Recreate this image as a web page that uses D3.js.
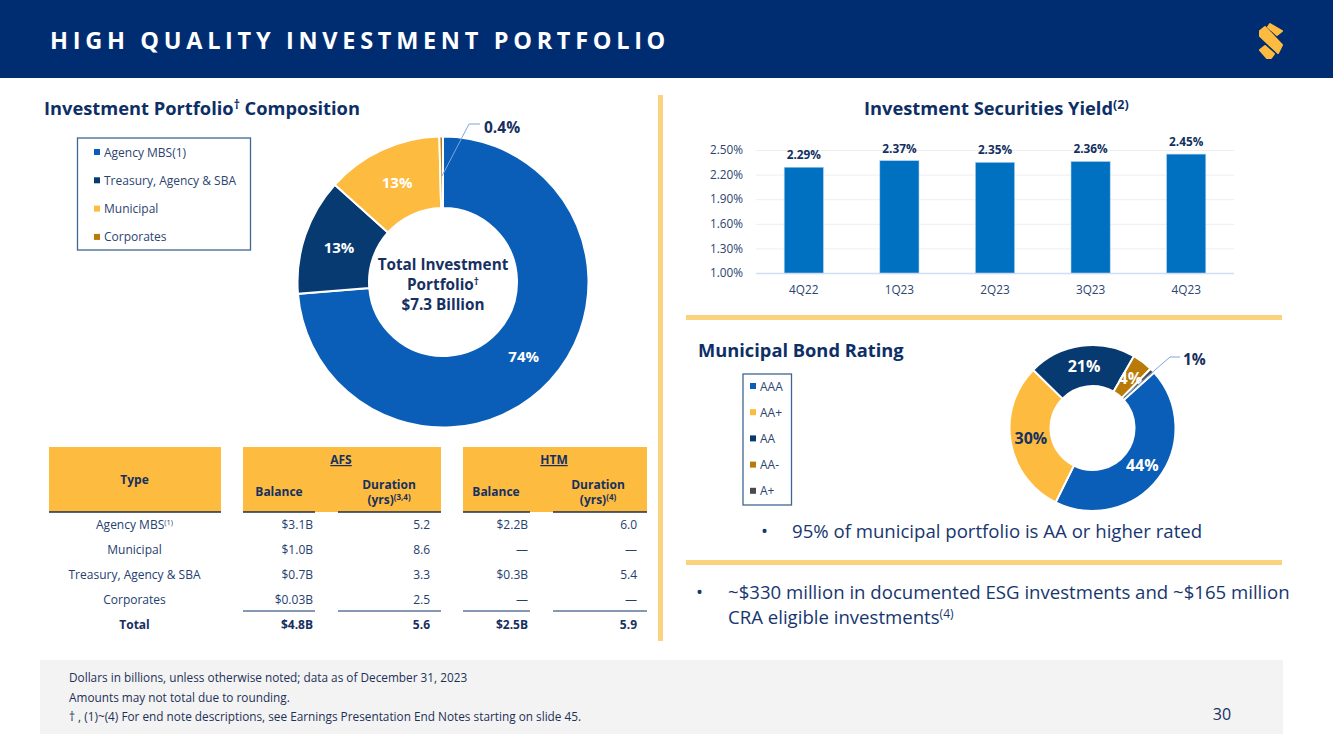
<!DOCTYPE html>
<html lang="en">
<head>
<meta charset="UTF-8">
<title>High Quality Investment Portfolio</title>
<script src="https://d3js.org/d3.v7.min.js"></script>
<style>
    html, body { margin: 0; padding: 0; background: #fff; overflow: hidden; }
    svg { display: block; }
    text { font-family: "Open Sans", sans-serif; fill: #17305f; }
    .heading { font-size: 18.3px; font-weight: 700; fill: #0e2f66; }
    .legend { font-size: 12px; fill: #2b4470; }
    .cell { font-size: 12px; fill: #24406f; }
    .head { font-size: 12px; font-weight: 700; fill: #17305f; }
    .foot { font-size: 11.8px; fill: #1d3156; }
    .bullet { font-size: 18.6px; fill: #17366f; }
</style>
</head>
<body>
<svg width="1333" height="749"></svg>
<script>
// Portfolio donut
const portfolioNames = ["Agency MBS(1)", "Treasury, Agency & SBA", "Municipal", "Corporates"];
const portfolioValues = [74, 13, 13, 0.4];
const portfolioLabels = ["74%", "13%", "13%", "0.4%"];

// Municipal rating donut
const ratingNames = ["AAA", "AA+", "AA", "AA-", "A+"];
const ratingValues = [44, 30, 21, 4, 1];
const ratingLabels = ["44%", "30%", "21%", "4%", "1%"];

// Yield bars
const quarters = ["4Q22", "1Q23", "2Q23", "3Q23", "4Q23"];
const yields = [2.29, 2.37, 2.35, 2.36, 2.45];
const yieldTicks = [1.0, 1.3, 1.6, 1.9, 2.2, 2.5];

// Table
const rowTypes = ["Agency MBS", "Municipal", "Treasury, Agency & SBA", "Corporates", "Total"];
const afsBalance = ["$3.1B", "$1.0B", "$0.7B", "$0.03B", "$4.8B"];
const afsDuration = ["5.2", "8.6", "3.3", "2.5", "5.6"];
const htmBalance = ["$2.2B", "—", "$0.3B", "—", "$2.5B"];
const htmDuration = ["6.0", "—", "5.4", "—", "5.9"];

const footLines = [
    "Dollars in billions, unless otherwise noted; data as of December 31, 2023",
    "Amounts may not total due to rounding.",
    "† , (1)~(4)  For end note descriptions, see Earnings Presentation End Notes starting on slide 45."
];

const navy = "#002d72", gold = "#fdbb3f";
const blue = "#0b5eb8", darkBlue = "#073a70", brown = "#b97a08", grey = "#4a4a4a";
const portfolioColors = [blue, darkBlue, gold, brown];
const ratingColors = [blue, gold, darkBlue, brown, grey];

const svg = d3.select("svg");

// adds a superscript run to a text selection
function sup(sel, s, size, rise) {
    sel.append("tspan").attr("dy", -rise).attr("font-size", size).text(s);
}

// Header
svg.append("rect").attr("width", 1333).attr("height", 78).attr("fill", navy);
svg.append("text").attr("x", 50).attr("y", 48.5)
    .style("font-size", "23.5px").style("font-weight", 700).style("fill", "#fff")
    .style("letter-spacing", "4.7px").text("HIGH QUALITY INVESTMENT PORTFOLIO");

// Logo
const logo = svg.append("g").attr("fill", gold).attr("stroke", gold)
    .attr("stroke-width", 2).attr("stroke-linejoin", "round");
[
    "M1270,24 L1282,31 L1277,35 L1268,27 Z",
    "M1260,31 L1265,27 L1282,45 L1278,53 L1260,36 Z",
    "M1260,50 L1265,46 L1274,54 L1271,58 L1267,58 Z"
].forEach(d => logo.append("path").attr("d", d));

// Dividers and footer band
svg.append("rect").attr("x", 658).attr("y", 95).attr("width", 5).attr("height", 546).attr("fill", "#fbd27e");
svg.append("rect").attr("x", 686).attr("y", 315).attr("width", 596).attr("height", 5).attr("fill", "#fbd27e");
svg.append("rect").attr("x", 686).attr("y", 560).attr("width", 596).attr("height", 5).attr("fill", "#fbd27e");
svg.append("rect").attr("x", 40).attr("y", 660).attr("width", 1243).attr("height", 74).attr("fill", "#f3f3f3");

// Headings
const h1 = svg.append("text").attr("class", "heading").attr("x", 44).attr("y", 115);
h1.append("tspan").text("Investment Portfolio");
sup(h1, "†", 12, 6);
h1.append("tspan").attr("dy", 6).text(" Composition");
const h2 = svg.append("text").attr("class", "heading").attr("x", 864).attr("y", 115);
h2.append("tspan").text("Investment Securities Yield");
sup(h2, "(2)", 12.5, 6);
svg.append("text").attr("class", "heading").attr("x", 698).attr("y", 357).text("Municipal Bond Rating");

// Legend box
function drawLegend(x, y, w, h, names, colors, firstY, step, tx) {
    svg.append("rect").attr("x", x).attr("y", y).attr("width", w).attr("height", h)
        .attr("fill", "#fff").attr("stroke", "#3f6690").attr("stroke-width", 1.3);
    const g = svg.append("g").selectAll("g").data(names).join("g")
        .attr("transform", (d, i) => `translate(0,${firstY + i * step})`);
    g.append("rect").attr("x", tx - 10).attr("y", -3).attr("width", 6).attr("height", 6)
        .attr("fill", (d, i) => colors[i]);
    g.append("text").attr("class", "legend").attr("x", tx).attr("y", 4.5).text(d => d);
}
drawLegend(77.5, 138, 173, 112, portfolioNames, portfolioColors, 152, 28.3, 104);
drawLegend(743, 374, 48.5, 131, ratingNames, ratingColors, 386, 26.2, 760);

// Donuts
function drawDonut(cx, cy, outer, inner, values, colors, start) {
    const pie = d3.pie().sort(null).value(d => d)
        .startAngle(start).endAngle(start + 2 * Math.PI);
    const arc = d3.arc().innerRadius(inner).outerRadius(outer);
    const arcs = pie(values);
    svg.append("g").attr("transform", `translate(${cx},${cy})`)
        .selectAll("path").data(arcs).join("path")
        .attr("d", arc).attr("fill", (d, i) => colors[i])
        .attr("stroke", "#fff").attr("stroke-width", 2);
    return { arcs, arc };
}

const d1 = drawDonut(443, 282, 145.5, 74, portfolioValues, portfolioColors, 0);
svg.append("g").attr("transform", "translate(443,282)")
    .selectAll("text").data(d1.arcs.slice(0, 3)).join("text")
    .attr("text-anchor", "middle").attr("dy", 6)
    .attr("transform", d => `translate(${d1.arc.centroid(d)})`)
    .style("font-size", "15px").style("font-weight", 700)
    .style("fill", "#fff").text((d, i) => portfolioLabels[i]);

// leader for the small slice
svg.append("polyline").attr("points", "442,176 469,124 480,124")
    .attr("fill", "none").attr("stroke", "#7ea6e0").attr("stroke-width", 1);
svg.append("text").attr("x", 484).attr("y", 132.5).style("font-size", "15.5px").style("font-weight", 700)
    .text(portfolioLabels[3]);

// Centre text
const centre = svg.append("g").attr("text-anchor", "middle")
    .style("font-size", "15.3px").style("font-weight", 700);
centre.append("text").attr("x", 443).attr("y", 270).text("Total Investment");
const c2 = centre.append("text").attr("x", 443).attr("y", 290);
c2.append("tspan").text("Portfolio");
sup(c2, "†", 10, 5);
centre.append("text").attr("x", 443).attr("y", 310).text("$7.3 Billion");

const d2 = drawDonut(1092.5, 428, 83, 42, ratingValues, ratingColors, 48 * Math.PI / 180);
const d2Fill = ["#fff", "#17305f", "#fff", "#fff"];
svg.append("g").attr("transform", "translate(1092.5,428)")
    .selectAll("text").data(d2.arcs.slice(0, 4)).join("text")
    .attr("text-anchor", "middle").attr("dy", 5.5)
    .attr("transform", d => `translate(${d2.arc.centroid(d)})`)
    .style("font-size", "16px").style("font-weight", 700)
    .style("fill", (d, i) => d2Fill[i]).text((d, i) => ratingLabels[i]);
svg.append("polyline").attr("points", "1124,397 1170,357 1180,357")
    .attr("fill", "none").attr("stroke", "#7ea6e0").attr("stroke-width", 1);
svg.append("text").attr("x", 1183).attr("y", 365).style("font-size", "15.5px").style("font-weight", 700)
    .text(ratingLabels[4]);

// Yield bars
const x = d3.scaleBand().domain(quarters).range([756, 1234]).paddingInner(0.59).paddingOuter(0.295);
const y = d3.scaleLinear().domain([1.0, 2.5]).range([273, 150]);

const gy = svg.append("g").attr("transform", "translate(756,0)")
    .call(d3.axisLeft(y).tickValues(yieldTicks).tickSize(-478).tickPadding(13)
        .tickFormat(d => d.toFixed(2) + "%"));
gy.select(".domain").remove();
gy.selectAll("line").attr("stroke", (d, i) => i === 0 ? "#cfe0f5" : "#eeeeee")
    .attr("stroke-width", (d, i) => i === 0 ? 1.5 : 1);
gy.selectAll("text").style("font-size", "11.8px").style("font-family", "'Open Sans', sans-serif").style("fill", "#2b4470");

svg.append("g").selectAll("rect").data(yields).join("rect")
    .attr("x", (d, i) => x(quarters[i])).attr("width", x.bandwidth())
    .attr("y", d => y(d)).attr("height", d => 273 - y(d))
    .attr("fill", "#0070c0").attr("stroke", "#b5d3f0").attr("stroke-width", 0.6);
svg.append("g").selectAll("text").data(yields).join("text")
    .attr("x", (d, i) => x(quarters[i]) + x.bandwidth() / 2).attr("y", d => y(d) - 8)
    .attr("text-anchor", "middle").style("font-size", "11.8px").style("font-weight", 700)
    .style("fill", "#12305f").text(d => d.toFixed(2) + "%");

const gx = svg.append("g").attr("transform", "translate(0,273)")
    .call(d3.axisBottom(x).tickSize(0).tickPadding(13));
gx.select(".domain").remove();
gx.selectAll("text").style("font-size", "11.8px").style("font-family", "'Open Sans', sans-serif").style("fill", "#2b4470");

// Table header blocks
svg.append("rect").attr("x", 49).attr("y", 447).attr("width", 172).attr("height", 65).attr("fill", gold);
svg.append("rect").attr("x", 243).attr("y", 447).attr("width", 198).attr("height", 65).attr("fill", gold);
svg.append("rect").attr("x", 463).attr("y", 447).attr("width", 184).attr("height", 65).attr("fill", gold);

function headText(tx, ty, s, underline) {
    return svg.append("text").attr("class", "head").attr("x", tx).attr("y", ty)
        .attr("text-anchor", "middle").attr("text-decoration", underline ? "underline" : null).text(s);
}
headText(134.5, 484, "Type");
headText(341, 464, "AFS", true);
headText(554, 464, "HTM", true);
headText(279, 496, "Balance");
headText(389, 489, "Duration");
headText(496, 496, "Balance");
headText(598, 489, "Duration");
const y1 = headText(389, 504, "(yrs)");
sup(y1, "(3,4)", 8, 4);
const y2 = headText(598, 504, "(yrs)");
sup(y2, "(4)", 8, 4);

// Table rules
const ruleSpans = [[49, 221], [243, 315], [338, 441], [463, 530], [553, 647]];
svg.append("g").selectAll("line").data(ruleSpans).join("line")
    .attr("x1", d => d[0]).attr("x2", d => d[1]).attr("y1", 512).attr("y2", 512)
    .attr("stroke", "#1c2f52").attr("stroke-width", 1.5);
svg.append("g").selectAll("line").data(ruleSpans.slice(1)).join("line")
    .attr("x1", d => d[0]).attr("x2", d => d[1]).attr("y1", 611).attr("y2", 611)
    .attr("stroke", "#0e3468").attr("stroke-width", 1.2);

// Table rows
const rowY = d3.scalePoint().domain(rowTypes).range([529, 629]);
const columns = [[afsBalance, 313], [afsDuration, 430], [htmBalance, 528], [htmDuration, 637]];
rowTypes.forEach((name, r) => {
    const isTotal = r === rowTypes.length - 1;
    const t = svg.append("text").attr("class", isTotal ? "head" : "cell")
        .attr("x", 134.5).attr("y", rowY(name)).attr("text-anchor", "middle");
    t.append("tspan").text(name);
    if (r === 0) sup(t, "(1)", 7.5, 4);
    columns.forEach(c => {
        svg.append("text").attr("class", isTotal ? "head" : "cell")
            .attr("x", c[1]).attr("y", rowY(name)).attr("text-anchor", "end").text(c[0][r]);
    });
});

// Bullets
svg.append("text").attr("class", "bullet").attr("x", 761).attr("y", 538).text("•");
svg.append("text").attr("class", "bullet").attr("x", 792).attr("y", 538).text("95% of municipal portfolio is AA or higher rated");
svg.append("text").attr("class", "bullet").attr("x", 696).attr("y", 599).text("•");
svg.append("text").attr("class", "bullet").attr("x", 728).attr("y", 599).text("~$330 million in documented ESG investments and ~$165 million");
const b3 = svg.append("text").attr("class", "bullet").attr("x", 728).attr("y", 624);
b3.append("tspan").text("CRA eligible investments");
sup(b3, "(4)", 12, 6);

// Footer
svg.append("g").selectAll("text").data(footLines).join("text")
    .attr("class", "foot").attr("x", 69).attr("y", (d, i) => 682 + i * 19.7).text(d => d);
svg.append("text").attr("x", 1222).attr("y", 720).attr("text-anchor", "middle")
    .style("font-size", "16px").style("fill", "#17305f").text("30");
</script>
</body>
</html>
